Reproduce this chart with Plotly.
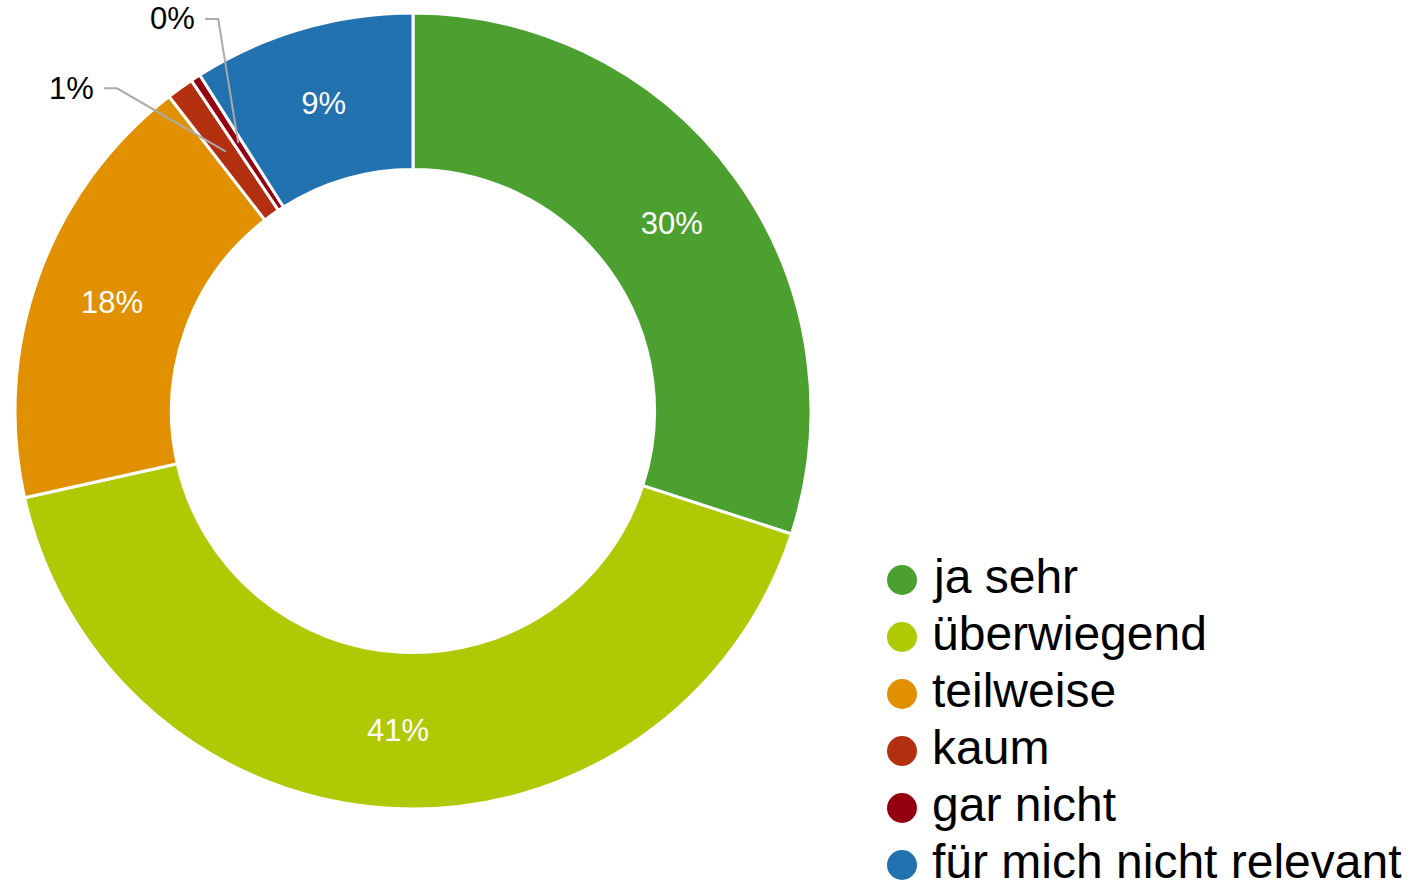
import math
import plotly.graph_objects as go

# ---------------- data ----------------
categories = ["ja sehr", "überwiegend", "teilweise", "kaum", "gar nicht",
              "für mich nicht relevant"]
values = [30.0, 41.5, 18.0, 1.1, 0.4, 9.0]
labels_pct = ["30%", "41%", "18%", "1%", "0%", "9%"]
colors = ["#4ca030", "#afc905", "#e09000", "#b22f10", "#950010", "#2272b0"]

# ---------------- layout constants ----------------
W, H = 1409, 884
FONT = "Liberation Sans, Arial, Helvetica, sans-serif"
CX, CY, R = 413, 411, 398          # pie centre / radius in pixels
HOLE = 0.607
SMALL = 2.0                        # slices below this get outside labels
SPREAD = 6.7                       # degrees to spread outside labels apart
LEG_X, LEG_Y0, LEG_STEP = 902, 580, 57


def px(x):
    return x / W


def py(y):
    return 1 - y / H


fig = go.Figure()

inside_text = [t if v >= SMALL else "" for t, v in zip(labels_pct, values)]

fig.add_trace(go.Pie(
    labels=categories,
    values=values,
    text=inside_text,
    texttemplate="%{text}",
    textposition="inside",
    insidetextorientation="horizontal",
    insidetextfont=dict(family=FONT, size=31, color="white"),
    marker=dict(colors=colors, line=dict(color="white", width=3)),
    hole=HOLE,
    sort=False,
    direction="clockwise",
    rotation=0,
    showlegend=False,
    hoverinfo="skip",
    domain=dict(x=[px(CX - R), px(CX + R)], y=[py(CY + R), py(CY - R)]),
))

shapes = []
annotations = []

# outside labels with leader lines for small slices
total = sum(values)
cum = 0.0
small_idx = 0
for v, t in zip(values, labels_pct):
    start = cum / total * 360
    cum += v
    mid = start + v / total * 180
    if v < SMALL:
        rm = R * (1 + HOLE) / 2
        a = math.radians(mid)
        x0 = CX + rm * math.sin(a)
        y0 = CY - rm * math.cos(a)
        ang = mid + (-SPREAD if small_idx == 0 else SPREAD)
        small_idx += 1
        b = math.radians(ang)
        re = R * 1.1
        x1 = CX + re * math.sin(b)
        y1 = CY - re * math.cos(b)
        side = -1 if math.sin(b) < 0 else 1
        x2 = x1 + side * 13
        shapes.append(dict(
            type="path", xref="paper", yref="paper",
            path=f"M {px(x0)} {py(y0)} L {px(x1)} {py(y1)} L {px(x2)} {py(y1)}",
            line=dict(color="#aaaaaa", width=2),
        ))
        annotations.append(dict(
            xref="paper", yref="paper", x=px(x2 + side * 8), y=py(y1),
            xanchor="right" if side < 0 else "left", yanchor="middle",
            text=t, showarrow=False,
            font=dict(family=FONT, size=31, color="black"),
        ))

# custom legend with round symbols
for i, (c, name) in enumerate(zip(colors, categories)):
    yc = LEG_Y0 + i * LEG_STEP
    shapes.append(dict(
        type="circle", xref="paper", yref="paper",
        xsizemode="pixel", ysizemode="pixel",
        xanchor=px(LEG_X), yanchor=py(yc),
        x0=-15, x1=15, y0=-15, y1=15,
        fillcolor=c, line=dict(width=0),
    ))
    annotations.append(dict(
        xref="paper", yref="paper", x=px(LEG_X + 28), y=py(yc - 4),
        xanchor="left", yanchor="middle",
        text=name, showarrow=False,
        font=dict(family=FONT, size=48, color="black"),
    ))

fig.update_layout(
    width=W, height=H,
    margin=dict(l=0, r=0, t=0, b=0),
    paper_bgcolor="white",
    plot_bgcolor="white",
    shapes=shapes,
    annotations=annotations,
)

fig.write_html("out.html",
               config={"displayModeBar": False},
               post_script="document.body.style.margin='0';"
                           "document.body.style.overflow='hidden';")
